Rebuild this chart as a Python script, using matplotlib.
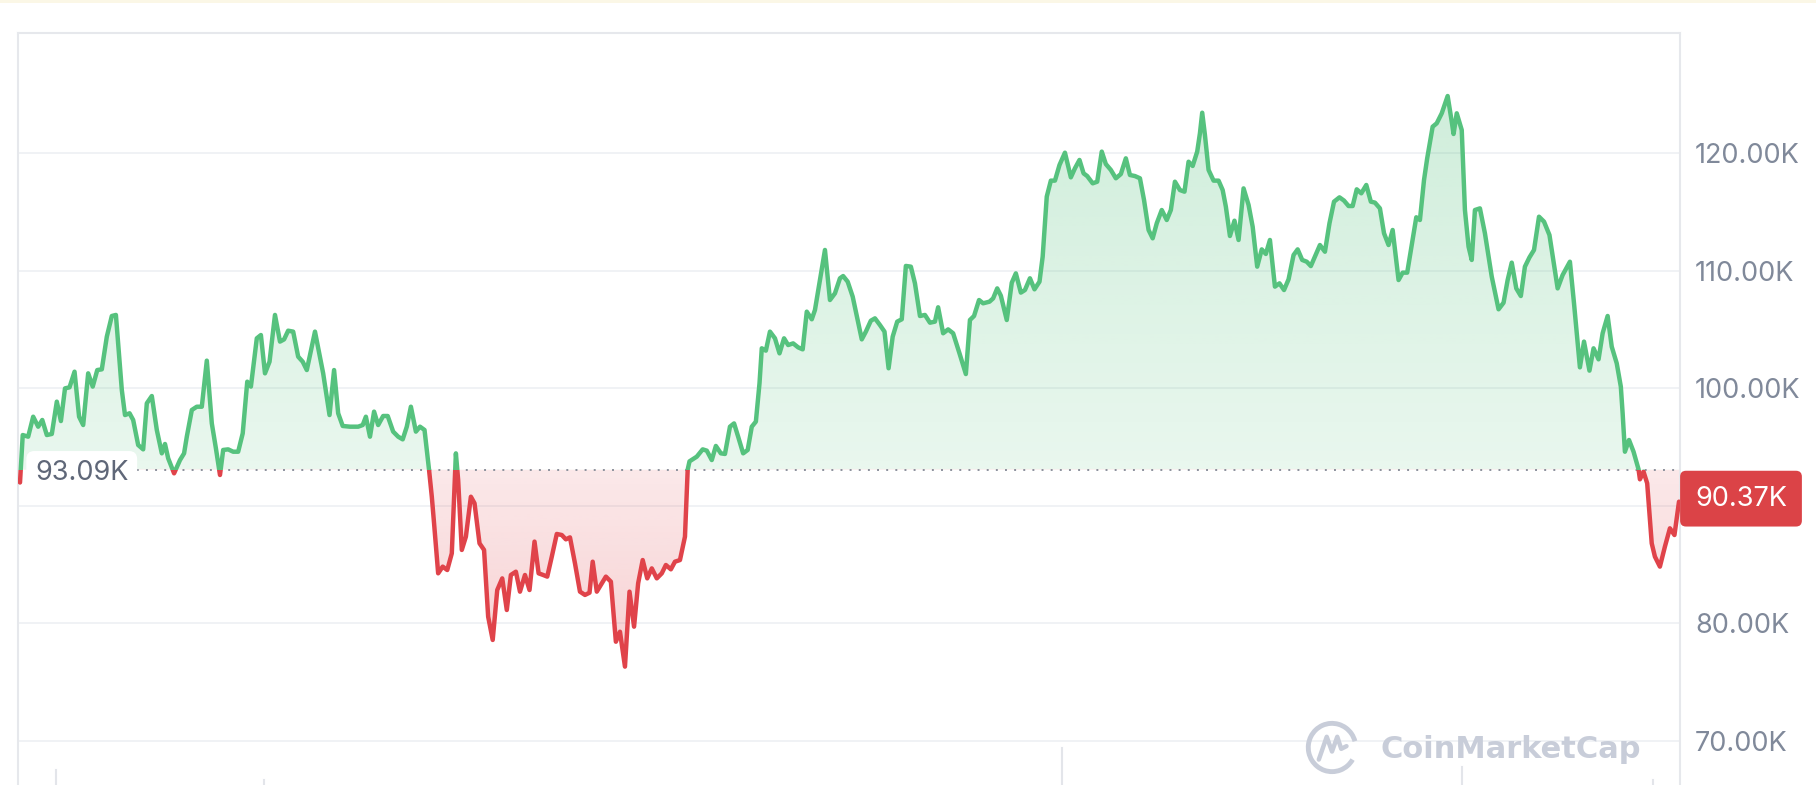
import numpy as np
import matplotlib
matplotlib.use("Agg")
import matplotlib.pyplot as plt
from matplotlib.patches import Rectangle, Arc
from matplotlib.colors import to_rgb

plt.rcParams['font.family'] = ['Inter', 'DejaVu Sans']

# ---------------- data (price in thousands USD, x in days) ----------------
days = [0.0, 0.6, 1.8, 2.9, 4.0, 4.9, 5.9, 7.0, 8.1, 9.0, 9.9, 10.9, 12.0, 13.0, 13.9,
        15.0, 16.0, 17.0, 18.0, 19.1, 20.2, 21.1, 22.4, 23.1, 24.1, 24.9, 26.0, 27.1,
        27.9, 29.0, 30.1, 31.2, 31.9, 32.6, 33.9, 35.2, 36.1, 36.7, 37.8, 38.9, 40.0,
        41.1, 42.2, 43.1, 44.0, 44.7, 45.8, 46.9, 48.0, 49.0, 50.0, 50.8, 52.1, 53.0,
        53.9, 54.9, 56.1, 57.2, 58.1, 59.0, 60.1, 61.2, 62.2, 63.1, 64.9, 66.7, 68.1,
        69.1, 70.0, 71.0, 72.6, 74.4, 75.4, 76.1, 77.0, 77.9, 78.8, 79.9, 80.9, 82.1,
        83.2, 84.2, 85.1, 86.0, 87.1, 88.0, 89.0, 90.0,
        90.6, 91.1, 92.0, 93.0, 94.0, 95.0, 95.9, 96.4, 97.2, 98.1, 99.2, 100.0, 101.1,
        102.1, 103.0, 104.0, 105.0, 106.1, 107.1, 108.0, 109.1, 110.0, 111.1, 112.1,
        113.2, 114.1, 115.1, 116.0, 117.0, 118.1, 119.2, 120.1, 121.0, 122.1, 123.2,
        124.3, 125.3, 126.0, 126.9, 128.0, 128.9, 130.0, 131.1, 132.0, 133.1, 134.1,
        135.1, 136.0, 137.0, 138.0, 139.0, 140.1, 141.2, 142.1, 143.2, 144.1, 145.2,
        146.3, 146.9,
        147.3, 148.9, 150.2, 151.1, 152.2, 153.1, 154.2, 155.1, 156.2, 157.1, 158.0,
        159.1, 160.1, 161.0, 161.9, 162.7, 163.2, 164.1, 165.0, 166.1, 167.1, 168.1,
        169.0, 170.1, 171.2, 172.2, 173.1, 174.2, 174.9, 176.0, 177.1, 178.2, 179.3,
        180.4, 181.1, 182.1, 183.2, 184.1, 185.2, 186.1, 187.2, 188.1, 189.2, 190.2,
        191.1, 192.0, 193.0, 194.0, 194.9, 196.0, 196.9, 198.0, 199.1, 200.2, 201.3,
        202.0, 203.1, 204.2, 205.3, 206.7, 208.1, 209.0, 209.9, 211.0, 211.9, 213.3,
        214.1, 215.0,
        215.8, 217.1, 218.2, 219.1, 220.2, 221.1, 222.2, 223.2, 224.3, 225.0, 225.9,
        226.8, 227.7, 228.7, 229.9, 231.2, 232.1, 233.1, 234.0, 234.8, 236.0, 237.0,
        238.0, 238.9, 240.0, 241.1, 242.2, 243.3, 244.2, 245.3, 246.4, 247.3, 248.3,
        249.2, 250.1, 251.2, 252.3, 253.2, 254.1, 255.2, 256.2, 257.1, 258.0, 259.0,
        259.6, 260.1, 260.7, 261.5, 262.6, 263.7, 264.6, 265.3, 266.2, 267.2, 268.1,
        269.2, 270.3, 271.2, 272.2, 273.2, 274.1, 275.0, 276.1, 277.1, 278.1, 279.1,
        280.2, 281.1, 282.1, 283.1, 284.0, 284.9, 286.0,
        287.1, 288.1, 289.1, 290.3, 291.3, 292.3, 293.2, 294.1, 295.1, 296.2, 297.2,
        298.1, 299.2, 300.1, 301.1, 302.0, 303.3, 304.2, 305.2, 306.2, 307.2, 308.0,
        308.9, 309.6, 310.8, 311.7, 312.8, 314.1, 315.0, 315.4, 316.1, 317.2, 317.9,
        318.7, 319.4, 320.1, 321.2, 322.3, 323.8, 325.3, 326.4, 327.3, 328.2, 329.2,
        330.2, 331.1, 332.1, 333.1, 334.2, 335.3, 336.5, 337.4, 338.3, 339.4, 341.0,
        341.9,
        343.2, 344.1, 345.3, 346.2, 347.3, 348.2, 349.3, 350.2, 351.3, 352.2, 352.6,
        353.1, 354.0, 355.0, 356.1, 356.4, 357.2, 358.0, 359.0, 359.7, 360.8, 361.9,
        363.0, 364.0, 365.0]

prices = [92.0, 96.04, 95.90, 97.60, 96.75, 97.32, 96.04, 96.13, 98.88, 97.23, 100.01,
          100.10, 101.43, 97.60, 96.89, 101.29, 100.16, 101.57, 101.63, 104.41, 106.17,
          106.26, 99.87, 97.74, 97.89, 97.32, 95.19, 94.82, 98.74, 99.36, 96.47, 94.48,
          95.28, 94.06, 92.78, 93.91, 94.48, 95.90, 98.17, 98.45, 98.45, 102.37, 97.03,
          94.91, 92.64, 94.77, 94.82, 94.62, 94.62, 96.18, 100.58, 100.16, 104.27, 104.55,
          101.29, 102.28, 106.26, 103.99, 104.18, 104.92, 104.84, 102.71, 102.28, 101.57,
          104.84, 101.29, 97.74, 101.57, 97.89, 96.81, 96.75, 96.75, 96.89, 97.60, 95.90,
          98.03, 96.89, 97.66, 97.66, 96.33, 95.90, 95.67, 96.75, 98.45, 96.33, 96.75,
          96.47, 93.06,
          90.8, 88.52, 84.27, 84.84, 84.55, 85.97, 94.48, 92.21, 86.26, 87.39, 90.79,
          90.23, 86.82, 86.26, 80.58, 78.60, 82.85, 83.84, 81.15, 84.13, 84.41, 82.71,
          84.13, 82.85, 86.97, 84.27, 84.13, 83.99, 85.69, 87.62, 87.53, 87.16, 87.33,
          85.12, 82.71, 82.43, 82.62, 85.26, 82.71, 83.42, 83.99, 83.56, 78.45, 79.30,
          76.33, 82.71, 79.73, 83.42, 85.40, 83.84, 84.69, 83.84, 84.27, 84.98, 84.61,
          85.26, 85.40, 87.39, 93.10,
          93.80, 94.20, 94.82, 94.71, 93.91, 95.11, 94.48, 94.43, 96.75, 97.03, 95.90,
          94.48, 94.77, 96.75, 97.18, 100.44, 103.42, 103.22, 104.84, 104.27, 102.99,
          104.27, 103.70, 103.84, 103.50, 103.33, 106.54, 105.89, 106.68, 109.23, 111.79,
          107.53, 108.10, 109.38, 109.57, 109.09, 107.82, 106.17, 104.18, 104.84, 105.77,
          105.97, 105.40, 104.84, 101.72, 104.41, 105.69, 105.89, 110.43, 110.37, 108.95,
          106.17, 106.26, 105.60, 105.69, 106.91, 104.70, 105.03, 104.70, 102.99, 101.23,
          105.83, 106.17, 107.53, 107.25, 107.39, 107.67, 108.52,
          107.9, 105.83, 109.00, 109.80, 108.16, 108.38, 109.38, 108.44, 109.09, 111.22,
          116.33, 117.69, 117.69, 119.02, 120.07, 117.97, 118.74, 119.45, 118.31, 118.08,
          117.46, 117.60, 120.16, 119.10, 118.60, 117.89, 118.25, 119.59, 118.17, 118.08,
          117.89, 116.04, 113.49, 112.78, 114.06, 115.19, 114.34, 115.19, 117.60, 116.89,
          116.75, 119.30, 118.94, 120.16, 121.72, 123.47, 121.57, 118.60, 117.69, 117.69,
          116.89, 115.48, 112.98, 114.28, 112.64, 117.03, 115.62, 113.77, 110.37, 111.84,
          111.45, 112.64, 108.67, 108.95, 108.38, 109.29, 111.36, 111.84, 110.94, 110.79,
          110.42, 111.22, 112.21,
          111.64, 114.06, 115.90, 116.27, 115.99, 115.53, 115.53, 116.95, 116.61, 117.32,
          115.90, 115.82, 115.33, 113.21, 112.21, 113.49, 109.23, 109.86, 109.86, 112.21,
          114.57, 114.34, 117.74, 119.59, 122.28, 122.57, 123.42, 124.89, 122.71, 121.66,
          123.42, 122.00, 115.19, 112.07, 110.94, 115.19, 115.33, 113.21, 109.52, 106.74,
          107.30, 109.23, 110.71, 108.52, 107.87, 110.37, 111.16, 111.79, 114.62, 114.20,
          113.06, 110.79, 108.52, 109.66, 110.79, 107.25,
          101.80, 103.99, 101.52, 103.42, 102.48, 104.70, 106.17, 103.56, 102.14, 100.16,
          97.88, 94.62, 95.62, 94.62, 93.12, 92.27, 92.92, 91.93, 86.82, 85.69, 84.84,
          86.54, 88.10, 87.53, 90.37]

baseline = 93.09
baseline_label = "93.09K"
last_price = 90.37
last_label = "90.37K"
ytick_values = [70, 80, 90, 100, 110, 120]
# the 90K label sits hidden behind the last-price tag in the reference
ytick_labels = ["70.00K", "80.00K", "", "100.00K", "110.00K", "120.00K"]

GREEN = '#56c27e'
RED = '#e0434a'

# ---------------- figure ----------------
W, H = 1816, 785
fig = plt.figure(figsize=(W / 100, H / 100), dpi=100)
fig.patch.set_facecolor('white')
fig.patches.append(Rectangle((0, 1 - 3 / H), 1, 3 / H, transform=fig.transFigure,
                             facecolor='#fbf7e6', edgecolor='none'))

ax = fig.add_axes([18 / W, 0, (1680 - 18) / W, (H - 33) / H])
xlo, xhi = -0.44, 365.22
ylo, yhi = 66.255, 130.255

# gradient fill between line and baseline
ny = 500
yy = np.linspace(ylo, yhi, ny)
rgba = np.zeros((ny, 2, 4))
g = np.array(to_rgb(GREEN))
r = np.array(to_rgb(RED))
t_up = np.clip((yy - baseline) / (125 - baseline), 0, 1)
t_dn = np.clip((baseline - yy) / (baseline - 76), 0, 1)
above = yy >= baseline
rgba[above, :, :3] = g
rgba[~above, :, :3] = r
alpha = np.where(above, 0.13 + 0.15 * t_up, 0.12 + 0.13 * t_dn)
rgba[:, :, 3] = alpha[:, None]

fill = ax.fill_between(days, prices, baseline, facecolor='none', edgecolor='none')
im = ax.imshow(rgba, extent=[xlo, xhi, ylo, yhi], origin='lower', aspect='auto',
               interpolation='bilinear', zorder=1)
im.set_clip_path(fill.get_paths()[0], ax.transData)

# line, green above baseline, red below
LW = 3.2
gl, = ax.plot(days, prices, color=GREEN, lw=LW, zorder=5,
              solid_joinstyle='round', solid_capstyle='round')
gl.set_clip_path(Rectangle((xlo, baseline), xhi - xlo, yhi - baseline,
                           transform=ax.transData))
rl, = ax.plot(days, prices, color=RED, lw=LW, zorder=5,
              solid_joinstyle='round', solid_capstyle='round')
rl.set_clip_path(Rectangle((xlo, ylo), xhi - xlo, baseline - ylo,
                           transform=ax.transData))

# dotted baseline
ax.axhline(baseline, color='#8c919c', lw=1.4, linestyle=(0, (1, 3.7)), zorder=2)

ax.set_xlim(xlo, xhi)
ax.set_ylim(ylo, yhi)

# axes styling
for side in ['top', 'left', 'right']:
    ax.spines[side].set_color('#e6e8ec')
    ax.spines[side].set_linewidth(1.5)
ax.spines['bottom'].set_visible(False)
ax.set_xticks([])
ax.set_yticks(ytick_values)
ax.set_yticklabels(ytick_labels)
ax.yaxis.tick_right()
ax.tick_params(axis='y', length=0, pad=10.8, labelsize=19.5, labelcolor='#80899a')
ax.yaxis.grid(True, color='#eef0f3', lw=1.2)
ax.set_axisbelow(True)

# small x-axis separators peeking at the bottom
for d, top in [(7.9, 67.5), (53.7, 66.7), (229.3, 69.4), (317.3, 67.8), (359.3, 66.7)]:
    ax.plot([d, d], [ylo, top], color='#e3e5ea', lw=1.5, zorder=1, clip_on=False)

# baseline label
ax.annotate(baseline_label, xy=(0, baseline), xycoords=ax.get_yaxis_transform(),
            xytext=(17, -3), textcoords='offset pixels', ha='left', va='center',
            fontsize=19.5, color='#5f6778', zorder=4, annotation_clip=False,
            bbox=dict(boxstyle='round,pad=0.32,rounding_size=0.3', fc='white', ec='none'))

# last price tag
ax.annotate(last_label, xy=(1, last_price), xycoords=ax.get_yaxis_transform(),
            xytext=(15, 3), textcoords='offset pixels', ha='left', va='center',
            fontsize=19.5, color='white', zorder=6, annotation_clip=False,
            bbox=dict(boxstyle='round,pad=0.55,rounding_size=0.22', fc='#db4347', ec='none'))

# watermark
WM = '#c8cdd9'
fig.text(1380 / W, 1 - 750 / H, 'CoinMarketCap', fontsize=22, fontweight='bold',
         color=WM, ha='left', va='center', family=['DejaVu Sans'])
lax = fig.add_axes([1303 / W, 1 - 777 / H, 58 / W, 59 / H])
lax.set_xlim(-1.1, 1.1)
lax.set_ylim(-1.1, 1.1)
lax.axis('off')
lax.add_patch(Arc((0, 0), 1.8, 1.8, theta1=15, theta2=330, color=WM, lw=3.5))
lax.plot([-0.5, -0.2, 0.0, 0.2, 0.35, 0.55], [-0.45, 0.4, -0.15, 0.4, -0.05, 0.05],
         color=WM, lw=3.2, solid_joinstyle='round', solid_capstyle='round')

fig.savefig('out.png', dpi=100, facecolor='white')
